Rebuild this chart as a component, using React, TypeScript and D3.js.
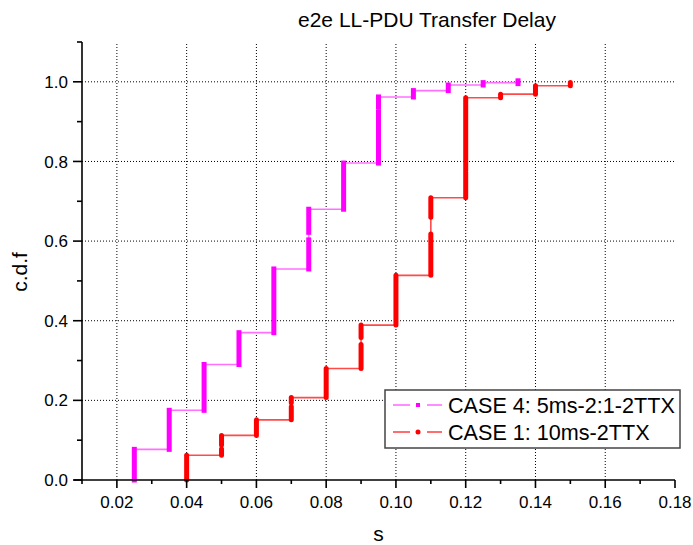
import React from "react";
import * as d3 from "d3";

// CASE 4 (magenta, squares): step positions and cdf levels reached at each step
const case4X = [0.025, 0.035, 0.045, 0.055, 0.065, 0.075, 0.085, 0.095, 0.105, 0.115, 0.125, 0.135];
const case4Levels = [0.077, 0.175, 0.29, 0.37, 0.53, 0.68, 0.796, 0.962, 0.978, 0.992, 0.998, 1.0];
const case4Gaps: [number, number, number][] = [
  [0.075, 0.603, 0.622],
  [0.095, 0.925, 0.938],
];

// CASE 1 (red, circles)
const case1X = [0.04, 0.05, 0.06, 0.07, 0.08, 0.09, 0.1, 0.11, 0.12, 0.13, 0.14, 0.15];
const case1Levels = [0.062, 0.112, 0.151, 0.207, 0.28, 0.389, 0.514, 0.709, 0.96, 0.969, 0.99, 0.998];
const case1Gaps: [number, number, number][] = [
  [0.05, 0.078, 0.088],
  [0.07, 0.184, 0.194],
  [0.09, 0.34, 0.358],
  [0.11, 0.618, 0.66],
  [0.12, 0.772, 0.778],
];

const xTicks = [0.02, 0.04, 0.06, 0.08, 0.1, 0.12, 0.14, 0.16, 0.18];
const xMinor = [0.01, 0.03, 0.05, 0.07, 0.09, 0.11, 0.13, 0.15, 0.17];
const yTicks = [0, 0.2, 0.4, 0.6, 0.8, 1.0];
const yMinor = [0.1, 0.3, 0.5, 0.7, 0.9, 1.1];

const title = "e2e LL-PDU Transfer Delay";
const xLabel = "s";
const yLabel = "c.d.f";
const legendLabels = ["CASE 4: 5ms-2:1-2TTX", "CASE 1: 10ms-2TTX"];

const W = 693;
const H = 545;
const FONT = "'Liberation Sans', Arial, sans-serif";

const x = d3.scaleLinear().domain([0.01, 0.18]).range([82, 675]);
const y = d3.scaleLinear().domain([0, 1.1]).range([480, 42]);

function subtractGaps(y0: number, y1: number, gaps: [number, number][]) {
  let runs: [number, number][] = [[y0, y1]];
  gaps.forEach(([g0, g1]) => {
    const next: [number, number][] = [];
    runs.forEach(([a, b]) => {
      if (g1 <= a || g0 >= b) next.push([a, b]);
      else {
        if (g0 > a) next.push([a, g0]);
        if (g1 < b) next.push([g1, b]);
      }
    });
    runs = next;
  });
  return runs;
}

function Series({ xs, levels, gaps, thick, thin, cap }: {
  xs: number[]; levels: number[]; gaps: [number, number, number][];
  thick: string; thin: string; cap: "round" | "square";
}) {
  const elems: React.ReactNode[] = [];
  const line = d3.line<[number, number]>().x((d) => x(d[0])).y((d) => y(d[1]));
  const pts: [number, number][] = [];
  xs.forEach((xv, i) => {
    const prev = i === 0 ? 0 : levels[i - 1];
    pts.push([xv, prev]);
    pts.push([xv, levels[i]]);
  });
  elems.push(
    <path key="thin" d={line(pts) || ""} fill="none" stroke={thin} strokeWidth={1.6} />
  );
  xs.forEach((xv, i) => {
    const prev = i === 0 ? 0 : levels[i - 1];
    const g = gaps.filter((gg) => gg[0] === xv).map((gg) => [gg[1], gg[2]] as [number, number]);
    const runs = subtractGaps(prev, levels[i], g);
    runs.forEach(([a, b], j) => {
      const ya = y(a);
      const yb = y(b);
      const pad = Math.abs(ya - yb) < 2 ? 1 : 0;
      elems.push(
        <line key={`v${i}-${j}`} x1={x(xv)} x2={x(xv)} y1={ya + pad} y2={yb - pad}
          stroke={thick} strokeWidth={5} strokeLinecap={cap} />
      );
    });
  });
  return <g>{elems}</g>;
}

export default function App() {
  const x0 = x.range()[0];
  const x1 = x.range()[1];
  const yb = y(0);
  const yt = y(1.1);
  return (
    <svg width={W} height={H} style={{ position: "absolute", left: 0, top: 0, background: "#fff" }}
      fontFamily={FONT}>
      <rect x={0} y={0} width={W} height={H} fill="#fff" />
      {/* grid */}
      {xTicks.filter((t) => t < 0.175).map((t) => (
        <line key={`gx${t}`} x1={x(t)} x2={x(t)} y1={yb} y2={yt + 2}
          stroke="#000" strokeWidth={1} strokeDasharray="1,2" />
      ))}
      {yTicks.filter((t) => t > 0).map((t) => (
        <line key={`gy${t}`} x1={x0} x2={x1} y1={y(t)} y2={y(t)}
          stroke="#000" strokeWidth={1} strokeDasharray="1,2" />
      ))}
      {/* series */}
      <Series xs={case4X} levels={case4Levels} gaps={case4Gaps} thick="#ff00ff" thin="#ff70ff" cap="square" />
      <Series xs={case1X} levels={case1Levels} gaps={case1Gaps} thick="#ff0000" thin="#ff4a4a" cap="round" />
      {/* axes */}
      <line x1={x0 - 8} x2={x1} y1={yb} y2={yb} stroke="#000" strokeWidth={1.6} />
      <line x1={x0} x2={x0} y1={yb} y2={yt} stroke="#000" strokeWidth={1.6} />
      {xTicks.map((t) => (
        <g key={`xt${t}`}>
          <line x1={x(t)} x2={x(t)} y1={yb} y2={yb + 8} stroke="#000" strokeWidth={1.6} />
          <text x={x(t)} y={508} textAnchor="middle" fontSize={17} fill="#000">{t.toFixed(2)}</text>
        </g>
      ))}
      {xMinor.map((t) => (
        <line key={`xm${t}`} x1={x(t)} x2={x(t)} y1={yb} y2={yb + 4} stroke="#000" strokeWidth={1.6} />
      ))}
      {yTicks.map((t) => (
        <g key={`yt${t}`}>
          <line x1={x0 - 9} x2={x0} y1={y(t)} y2={y(t)} stroke="#000" strokeWidth={1.6} />
          <text x={68} y={y(t)} dy="0.36em" textAnchor="end" fontSize={17} fill="#000">{t.toFixed(1)}</text>
        </g>
      ))}
      {yMinor.map((t) => (
        <line key={`ym${t}`} x1={x0 - 5} x2={x0} y1={y(t)} y2={y(t)} stroke="#000" strokeWidth={1.6} />
      ))}
      {/* labels */}
      <text x={427} y={27} textAnchor="middle" fontSize={21} fill="#000">{title}</text>
      <text x={(x0 + x1) / 2} y={541} textAnchor="middle" fontSize={21} fill="#000">{xLabel}</text>
      <text transform="translate(27,272) rotate(-90)" textAnchor="middle" fontSize={21} fill="#000">{yLabel}</text>
      {/* legend */}
      <g>
        <rect x={385} y={390} width={295} height={58} fill="#fff" stroke="#444" strokeWidth={1.5} />
        <line x1={393} x2={410} y1={405} y2={405} stroke="#ff70ff" strokeWidth={1.6} />
        <line x1={427} x2={442} y1={405} y2={405} stroke="#ff70ff" strokeWidth={1.6} />
        <rect x={416} y={403} width={4} height={4} fill="#ff00ff" />
        <text x={448} y={413} fontSize={21.6} fill="#000">{legendLabels[0]}</text>
        <line x1={393} x2={410} y1={432} y2={432} stroke="#ff4a4a" strokeWidth={1.6} />
        <line x1={427} x2={442} y1={432} y2={432} stroke="#ff4a4a" strokeWidth={1.6} />
        <circle cx={418} cy={432} r={2.5} fill="#ff0000" />
        <text x={448} y={440} fontSize={21.6} fill="#000">{legendLabels[1]}</text>
      </g>
    </svg>
  );
}
